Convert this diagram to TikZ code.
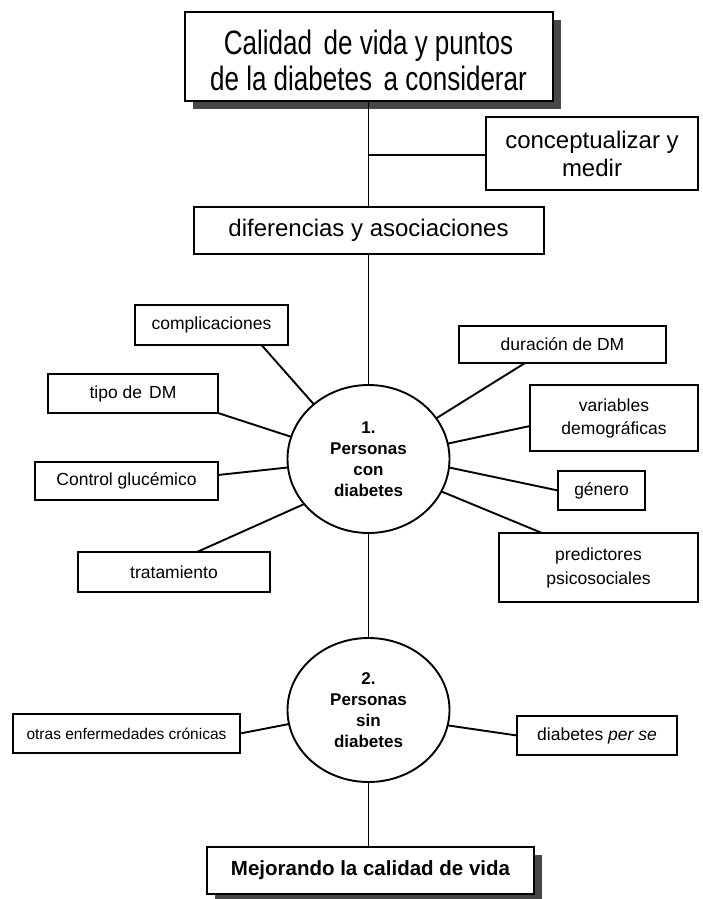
\documentclass[tikz,border=0pt]{standalone}
\usepackage{fontspec}
\usepackage{graphicx}
\setmainfont{Liberation Sans}
\usetikzlibrary{shapes.geometric,shadows}
\begin{document}
\begin{tikzpicture}[x=1pt,y=-1pt,
  box/.style={draw, line width=2pt, fill=white, inner sep=0pt, outer sep=0pt, align=center, font=\fontsize{17.5}{23}\selectfont},
  link/.style={line width=1.9pt},
  circ/.style={ellipse, draw, line width=1.9pt, fill=white, minimum width=162pt, inner sep=0pt, outer sep=0pt, align=center, font=\bfseries\fontsize{17}{21}\selectfont},
  shad/.style={drop shadow={shadow xshift=8pt, shadow yshift=-8pt, fill=black!72, opacity=1}}
]
\useasboundingbox[fill=white] (0,0) rectangle (703,899);

% main boxes
\node[box, shad, minimum width=368pt, minimum height=87pt] (title) at (368.5,56.5)
  {\raisebox{0pt}[\dimexpr\height+18pt\relax][\depth]{\scalebox{1}[1.3]{\fontsize{26}{27}\selectfont\begin{tabular}{@{}c@{}}Calidad\hspace{0.45em}de vida y puntos\\de la diabetes\hspace{0.45em}a considerar\end{tabular}}}};
\node[box, minimum width=212pt, minimum height=73pt, font=\fontsize{24}{28}\selectfont] (concept) at (592,153.5) {conceptualizar y\\medir};
\node[box, minimum width=350pt, minimum height=47pt, font=\fontsize{24}{28}\selectfont] (dif) at (368.5,230.5) {diferencias y asociaciones};

% circles
\node[circ, minimum height=148pt] (c1) at (368.5,459) {1.\\Personas\\con\\diabetes};
\node[circ, minimum height=144pt] (c2) at (368.5,710) {2.\\Personas\\sin\\diabetes};

% left boxes of circle 1
\node[box, minimum width=153pt, minimum height=40pt] (comp) at (211.5,325) {complicaciones};
\node[box, minimum width=170pt, minimum height=39pt] (tipo) at (133,393.5) {tipo de\hspace{0.4em}DM};
\node[box, minimum width=183pt, minimum height=38pt] (ctrl) at (126.5,481) {Control glucémico};
\node[box, minimum width=192pt, minimum height=40pt] (trat) at (174,572) {tratamiento};

% right boxes of circle 1
\node[box, minimum width=207pt, minimum height=37pt] (dur) at (562.5,344.5) {duración de DM};
\node[box, minimum width=168pt, minimum height=66pt] (var) at (614,418) {variables\\demográficas};
\node[box, minimum width=87pt, minimum height=39pt] (gen) at (601.5,490.5) {género};
\node[box, minimum width=199pt, minimum height=69pt, font=\fontsize{17.5}{24}\selectfont] (pred) at (598.5,567.5) {predictores\\psicosociales};

% boxes of circle 2
\node[box, minimum width=227pt, minimum height=39pt, font=\fontsize{15.5}{19}\selectfont] (otras) at (126.5,733.5) {otras enfermedades crónicas};
\node[box, minimum width=160pt, minimum height=39pt] (perse) at (597,735.5) {diabetes \textit{per se}};

% final box
\node[box, shad, minimum width=327pt, minimum height=47pt, font=\bfseries\fontsize{20.5}{24}\selectfont] (mej) at (370.5,870.5) {Mejorando la calidad de vida};

% connectors
\coordinate (j) at (title.south |- 0,155);
\draw[link] (title.south) -- (dif.north);
\draw[link] (j) -- (j -| concept.west);
\draw[link] (dif.south) -- (c1.north);
\draw[link] (c1.south) -- (c2.north);
\draw[link] (c2.south) -- (c2.south |- mej.north);

\draw[link] ([xshift=50pt]comp.south) -- (c1.135);
\draw[link] (tipo.south east) -- (c1.164);
\draw[link] ([yshift=6pt]ctrl.east) -- (c1.186);
\draw[link] ([xshift=23pt]trat.north) -- (c1.215);

\draw[link] ([xshift=-37.5pt]dur.south) -- (c1.31);
\draw[link] ([yshift=-8pt]var.west) -- (c1.11);
\draw[link] (gen.west) -- (c1.-6);
\draw[link] ([xshift=-56.5pt]pred.north) -- (c1.-24);

\draw[link] (otras.east) -- (c2.190);
\draw[link] (perse.west) -- (c2.-11);
\end{tikzpicture}
\end{document}
